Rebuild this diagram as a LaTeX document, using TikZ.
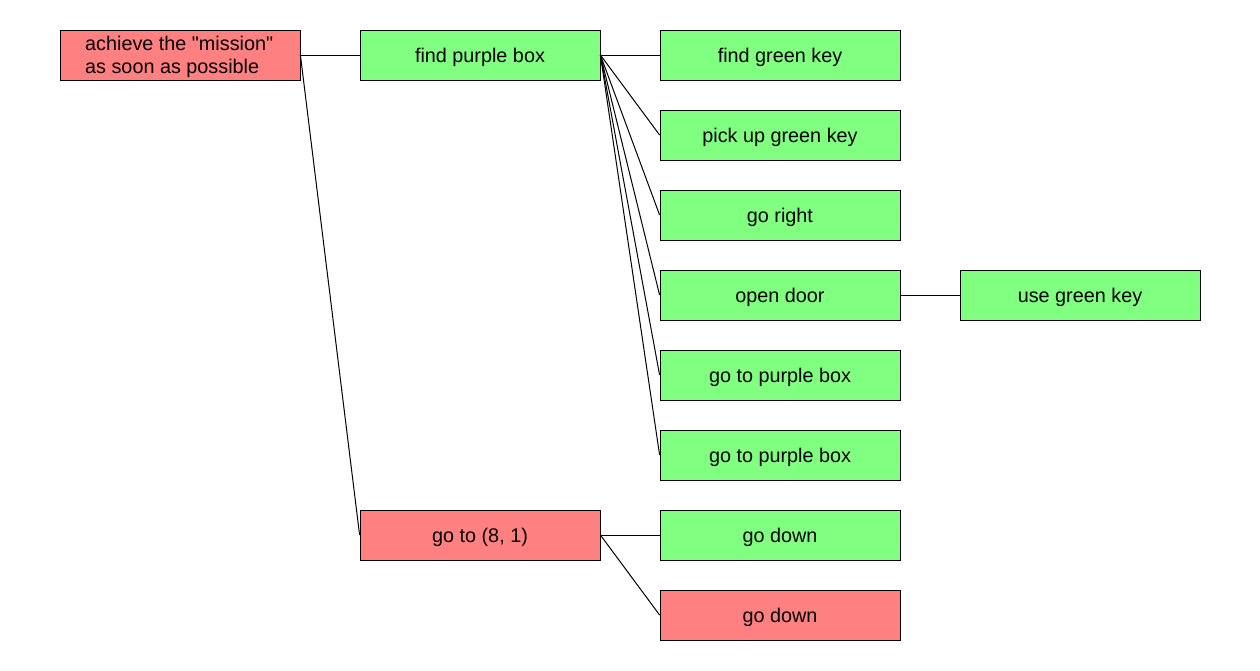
\documentclass[tikz,border=0pt]{standalone}
\usepackage{fontspec}
\setmainfont{Liberation Sans}[Ligatures=TeXOff]
\definecolor{boxred}{HTML}{FF8080}
\definecolor{boxgreen}{HTML}{80FF80}
\begin{document}
\begin{tikzpicture}[x=1pt,y=-1pt,
  task/.style={draw=black, line width=0.8pt, minimum width=240pt, minimum height=50pt, inner sep=0pt, text height=18pt, text depth=4pt, font=\fontsize{19.8}{23}\selectfont},
  ok/.style={task, fill=boxgreen},
  bad/.style={task, fill=boxred},
  link/.style={draw=black, line width=1pt}]
\useasboundingbox (0,0) rectangle (1260,670);
\node[bad] (root) at (180,55) {};
\node[anchor=west, align=left, inner sep=0pt, font=\fontsize{19.8}{23}\selectfont] (roottext) at (85,57) {achieve the "mission"\\as soon as possible};
\node[ok] (fpb) at (480,55) {find purple box};
\node[bad] (goto) at (480,535) {go to (8, 1)};
\node[ok] (fgk) at (780,55) {find green key};
\node[ok] (pgk) at (780,135) {pick up green key};
\node[ok] (gr) at (780,215) {go right};
\node[ok] (od) at (780,295) {open door};
\node[ok] (gpb1) at (780,375) {go to purple box};
\node[ok] (gpb2) at (780,455) {go to purple box};
\node[ok] (gd1) at (780,535) {go down};
\node[bad] (gd2) at (780,615) {go down};
\node[ok] (ugk) at (1080,295) {use green key};
\draw[link] (root.east) -- (fpb.west);
\draw[link] (root.east) -- (goto.west);
\foreach \c in {fgk,pgk,gr,od,gpb1,gpb2} \draw[link] (fpb.east) -- (\c.west);
\draw[link] (od.east) -- (ugk.west);
\draw[link] (goto.east) -- (gd1.west);
\draw[link] (goto.east) -- (gd2.west);
\end{tikzpicture}
\end{document}
